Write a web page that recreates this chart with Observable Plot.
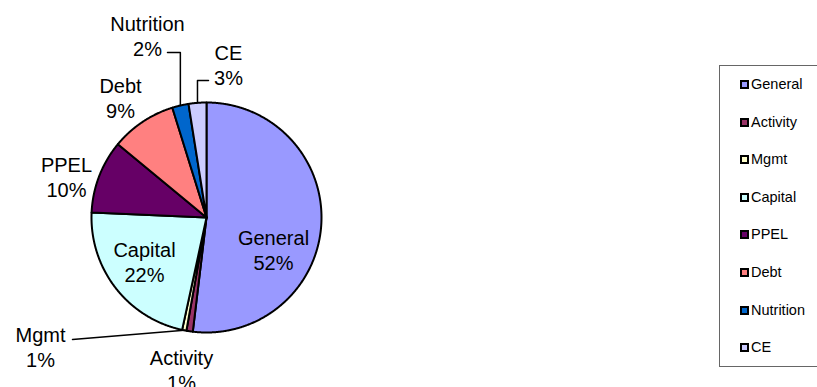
<!DOCTYPE html>
<html>
<head>
<meta charset="utf-8">
<script src="https://cdn.jsdelivr.net/npm/d3@7"></script>
<script src="https://cdn.jsdelivr.net/npm/@observablehq/plot@0.6"></script>
<style>
  html, body { margin: 0; padding: 0; background: #fff; }
  #wrap { position: relative; width: 817px; height: 387px; overflow: hidden; font-family: "Liberation Sans", Arial, sans-serif; }
  #legend { position: absolute; left: 719px; top: 65px; width: 120px; height: 302px; border: 1px solid #666; box-sizing: border-box; }
  .item { position: absolute; left: 20px; font-size: 14.5px; color: #000; line-height: 16px; white-space: nowrap; }
  .sw { display: inline-block; width: 5px; height: 5px; border: 2px solid #000; margin-right: 2px; vertical-align: 0px; }
</style>
</head>
<body>
<div id="wrap"><div id="chart"></div><div id="legend"></div></div>
<script>
// ---- data ----
const categories = ["General", "Activity", "Mgmt", "Capital", "PPEL", "Debt", "Nutrition", "CE"];
const values = [51.9, 0.9, 0.6, 22.3, 10.3, 9.2, 2.3, 2.5];
const colors = ["#9999FF", "#993366", "#FFFFCC", "#CCFFFF", "#660066", "#FF8080", "#0066CC", "#CCCCFF"];

// ---- layout (pixels) ----
const W = 817, H = 387;
const CX = 206, CY = 217, R = 115;
const toX = px => (px - CX) / R;
const toY = py => (CY - py) / R;

// label centres (pixel layout)
const labelAt = {
  General: [273, 249], Activity: [181, 369], Mgmt: [40, 346], Capital: [144, 261],
  PPEL: [66, 176], Debt: [120, 97], Nutrition: [147, 35], CE: [228, 64]
};
// leader-line start points (pixel layout); elbow where flag is true
const leaderFrom = {
  Nutrition: {p: [167, 52], elbow: true},
  CE: {p: [208, 80], elbow: true},
  Mgmt: {p: [72, 339], elbow: false}
};

const total = d3.sum(values);
const arcs = d3.pie().sort(null).value(d => d)(values);

// slice polygons
const pts = [];
arcs.forEach((a, i) => {
  const cat = categories[i];
  pts.push({cat, x: 0, y: 0});
  const n = Math.max(2, Math.ceil((a.endAngle - a.startAngle) / 0.005));
  for (let k = 0; k <= n; k++) {
    const t = a.startAngle + (a.endAngle - a.startAngle) * k / n;
    pts.push({cat, x: Math.sin(t), y: Math.cos(t)});
  }
});

// labels
const labels = categories.map((c, i) => ({
  cat: c,
  text: `${c}\n${Math.round(values[i] / total * 100)}%`,
  x: toX(labelAt[c][0]), y: toY(labelAt[c][1])
}));

// leader lines
const leaders = [];
Object.entries(leaderFrom).forEach(([c, o]) => {
  const a = arcs[categories.indexOf(c)];
  const mid = (a.startAngle + a.endAngle) / 2;
  const ex = Math.sin(mid), ey = Math.cos(mid);
  leaders.push({cat: c, x: toX(o.p[0]), y: toY(o.p[1])});
  if (o.elbow) leaders.push({cat: c, x: ex, y: toY(o.p[1])});
  leaders.push({cat: c, x: ex, y: ey});
});

const chart = Plot.plot({
  width: W, height: H, margin: 0,
  x: {domain: [toX(0), toX(W)], axis: null},
  y: {domain: [toY(H), toY(0)], axis: null},
  color: {domain: categories, range: colors},
  style: {fontFamily: "'Liberation Sans', Arial, sans-serif", background: "#fff"},
  marks: [
    Plot.line(pts, {x: "x", y: "y", z: "cat", fill: "cat", stroke: "#000", strokeWidth: 2, strokeLinejoin: "round", curve: "linear-closed"}),
    Plot.line(leaders, {x: "x", y: "y", z: "cat", stroke: "#000", strokeWidth: 1.5}),
    Plot.text(labels, {x: "x", y: "y", text: "text", fontSize: 20, lineHeight: 1.25, fill: "#000", textAnchor: "middle"})
  ]
});
document.getElementById("chart").appendChild(chart);

// legend
const legend = document.getElementById("legend");
categories.forEach((c, i) => {
  const d = document.createElement("div");
  d.className = "item";
  d.style.top = (10 + i * 37.6) + "px";
  const s = document.createElement("span");
  s.className = "sw";
  s.style.background = colors[i];
  d.appendChild(s);
  d.appendChild(document.createTextNode(c));
  legend.appendChild(d);
});
</script>
</body>
</html>
